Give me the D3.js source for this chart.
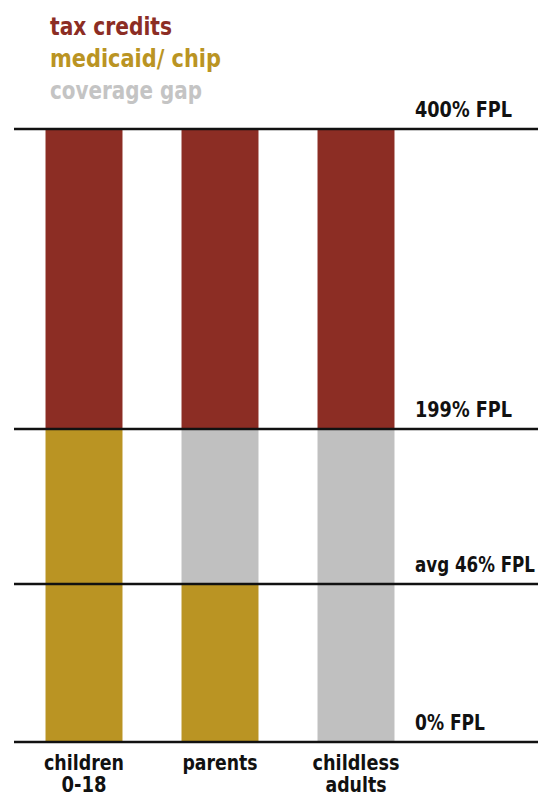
<!DOCTYPE html>
<html>
<head>
<meta charset="utf-8">
<script src="https://cdn.jsdelivr.net/npm/d3@7"></script>
<style>
  html, body { margin: 0; padding: 0; background: #fff; }
  svg text { font-family: "DejaVu Sans Condensed", "Liberation Sans Narrow", "Liberation Sans", sans-serif; font-weight: bold; font-stretch: condensed; }
</style>
</head>
<body>
<svg id="chart" width="538" height="794"></svg>
<script>
const categories = ["children 0-18", "parents", "childless adults"];
const categoryLines = [["children", "0-18"], ["parents"], ["childless", "adults"]];
const seriesNames = ["medicaid/ chip", "coverage gap", "tax credits"];
// segments per category: [start % FPL, end % FPL, series]
const childrenSegments = [[0, 199, "medicaid/ chip"], [199, 400, "tax credits"]];
const parentsSegments = [[0, 46, "medicaid/ chip"], [46, 199, "coverage gap"], [199, 400, "tax credits"]];
const childlessSegments = [[0, 199, "coverage gap"], [199, 400, "tax credits"]];
const tickValues = [0, 46, 199, 400];
const tickLabels = ["0% FPL", "avg 46% FPL", "199% FPL", "400% FPL"];
const legendOrder = ["tax credits", "medicaid/ chip", "coverage gap"];

const textWidths = {
  "0% FPL": 70, "avg 46% FPL": 120, "199% FPL": 97, "400% FPL": 97,
  "children": 80, "0-18": 45, "parents": 75, "childless": 87, "adults": 61,
  "tax credits": 122, "medicaid/ chip": 171, "coverage gap": 152
};

const segmentsByCat = [childrenSegments, parentsSegments, childlessSegments];
const color = d3.scaleOrdinal()
  .domain(["tax credits", "medicaid/ chip", "coverage gap"])
  .range(["#8c2d24", "#ba9423", "#c0c0c0"]);
const legendColor = d3.scaleOrdinal()
  .domain(["tax credits", "medicaid/ chip", "coverage gap"])
  .range(["#8c2d24", "#ba9423", "#c4c4c4"]);

const svg = d3.select("#chart");

// piecewise scale matching the reference's band spacing
const y = d3.scaleLinear().domain(tickValues).range([742, 584, 429, 129]);
const x = d3.scaleBand().domain(categories).range([16, 424])
  .paddingInner(0.434).paddingOuter(0.217);

// bars
categories.forEach((c, i) => {
  svg.append("g").selectAll("rect")
    .data(segmentsByCat[i])
    .join("rect")
    .attr("x", x(c))
    .attr("width", x.bandwidth())
    .attr("y", d => y(d[1]))
    .attr("height", d => y(d[0]) - y(d[1]))
    .attr("fill", d => color(d[2]));
});

// reference lines
svg.append("g").selectAll("line")
  .data(tickValues)
  .join("line")
  .attr("x1", 14).attr("x2", 538)
  .attr("y1", d => y(d)).attr("y2", d => y(d))
  .attr("stroke", "#111").attr("stroke-width", 2.5);

// tick labels
svg.append("g").selectAll("text")
  .data(tickValues)
  .join("text")
  .attr("x", 415)
  .attr("y", d => y(d) - 12)
  .attr("font-size", 22)
  .attr("fill", "#111")
  .attr("textLength", (d, i) => textWidths[tickLabels[i]])
  .attr("lengthAdjust", "spacingAndGlyphs")
  .text((d, i) => tickLabels[i]);

// category labels
svg.append("g").selectAll("g")
  .data(categories)
  .join("g")
  .each(function(d, i) {
    d3.select(this).selectAll("text")
      .data(categoryLines[i])
      .join("text")
      .attr("x", x(d) + x.bandwidth() / 2)
      .attr("y", (t, j) => 770 + j * 22)
      .attr("text-anchor", "middle")
      .attr("font-size", 21)
      .attr("fill", "#111")
      .attr("textLength", t => textWidths[t])
      .attr("lengthAdjust", "spacingAndGlyphs")
      .text(t => t);
  });

// legend
svg.append("g").selectAll("text")
  .data(legendOrder)
  .join("text")
  .attr("x", 50)
  .attr("y", (d, i) => 35 + i * 32)
  .attr("font-size", 25)
  .attr("fill", d => legendColor(d))
  .attr("textLength", d => textWidths[d])
  .attr("lengthAdjust", "spacingAndGlyphs")
  .text(d => d);
</script>
</body>
</html>
